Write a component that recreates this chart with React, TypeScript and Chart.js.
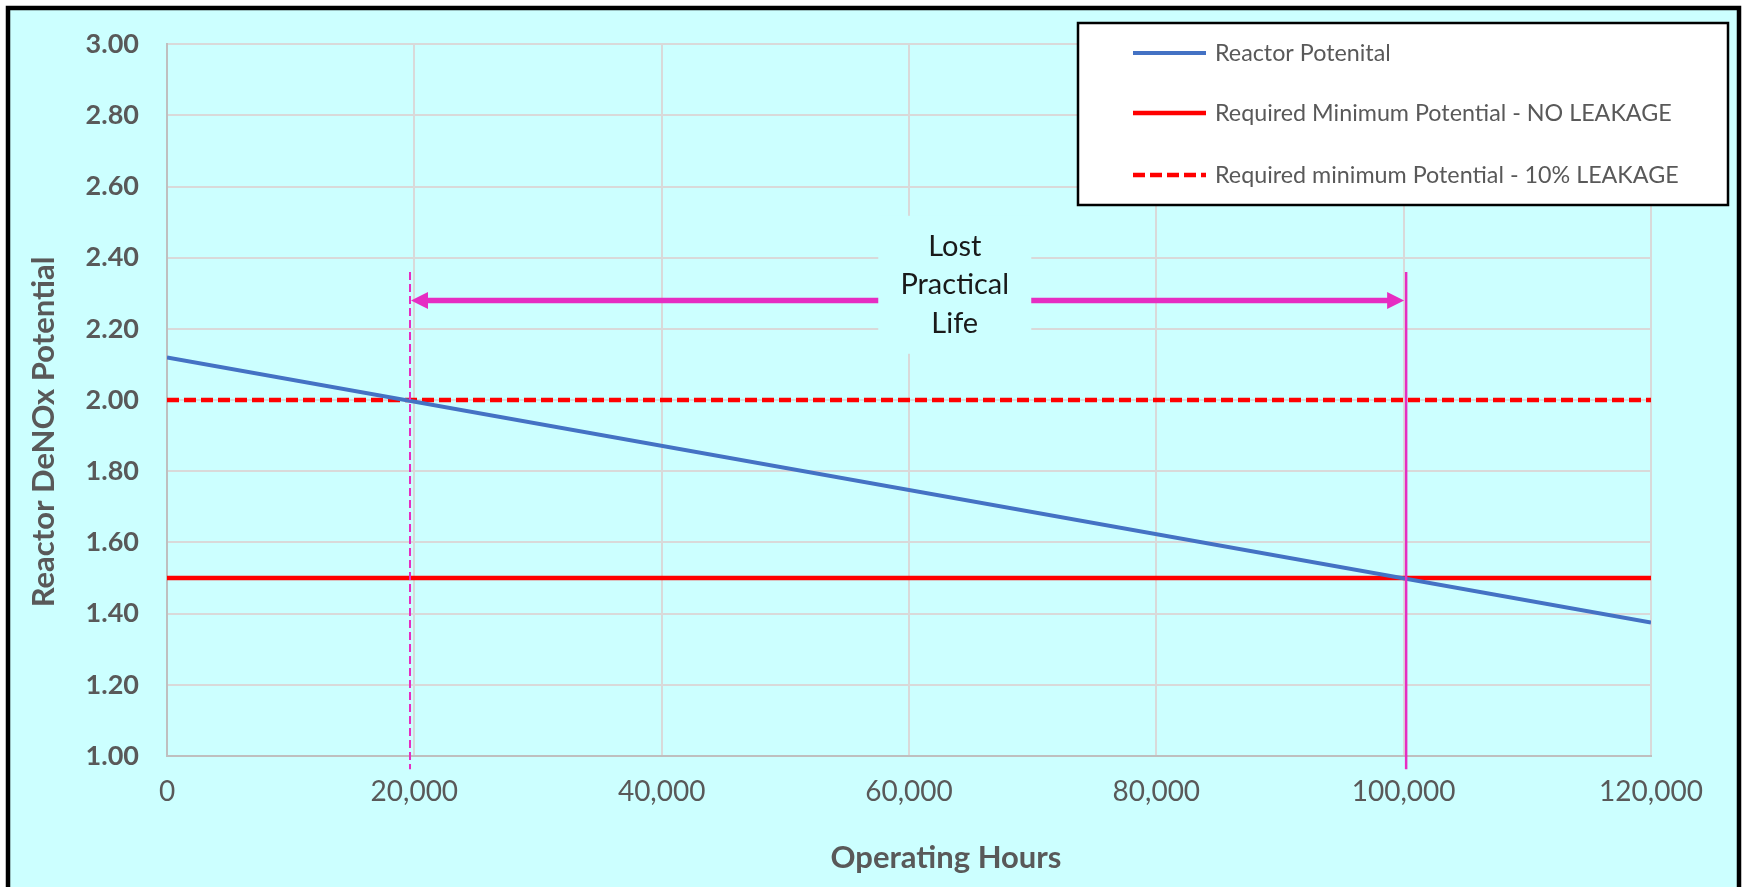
import React, { useEffect, useRef } from "react";
import { Chart, registerables } from "chart.js";

Chart.register(...registerables);

// ---- data ----
const HOURS = [0, 120000];
const REACTOR_POTENTIAL = [2.12, 1.375];
const MIN_NO_LEAKAGE = [1.5, 1.5];
const MIN_10_LEAKAGE = [2.0, 2.0];
const SERIES_LABELS = [
  "Reactor Potenital",
  "Required Minimum Potential - NO LEAKAGE",
  "Required minimum Potential - 10% LEAKAGE",
];
const X_TICKS = [0, 20000, 40000, 60000, 80000, 100000, 120000];
const Y_TICKS = [1.0, 1.2, 1.4, 1.6, 1.8, 2.0, 2.2, 2.4, 2.6, 2.8, 3.0];
const X_TITLE = "Operating Hours";
const Y_TITLE = "Reactor DeNOx Potential";

// annotation values (data units)
const LIFE_END_LEAKAGE = 19650;
const LIFE_END_NO_LEAKAGE = 100200;
const MARKER_TOP = 2.36;
const MARKER_BOTTOM = 0.963;
const ARROW_LEVEL = 2.28;
const NOTE_X = 63700;
const NOTE_Y = 2.324;
const NOTE_LINES = ["Lost", "Practical", "Life"];

const FONT = "Lato, 'Noto Sans', sans-serif";
const GREY = "#595959";
const MAGENTA = "#E62DC2";
const CYAN = "#CCFFFF";

const pts = (xs: number[], ys: number[]) => xs.map((x, i) => ({ x, y: ys[i] }));

const framePlugin = {
  id: "frame",
  beforeDraw(chart: any) {
    const { ctx, width, height } = chart;
    ctx.save();
    ctx.fillStyle = "#ffffff";
    ctx.fillRect(0, 0, width, height);
    ctx.fillStyle = CYAN;
    ctx.fillRect(6, 6, 1735, height + 20);
    ctx.strokeStyle = "#000000";
    ctx.lineWidth = 4.5;
    ctx.strokeRect(8, 8, 1731, height + 20);
    ctx.restore();
  },
};

const annotationPlugin = {
  id: "lostLife",
  afterDatasetsDraw(chart: any) {
    const { ctx } = chart;
    const xs = chart.scales.x;
    const ys = chart.scales.y;
    const xL = xs.getPixelForValue(LIFE_END_LEAKAGE);
    const xR = xs.getPixelForValue(LIFE_END_NO_LEAKAGE);
    const yTop = ys.getPixelForValue(MARKER_TOP);
    const yBot = ys.getPixelForValue(MARKER_BOTTOM);
    const yA = ys.getPixelForValue(ARROW_LEVEL);
    const nx = xs.getPixelForValue(NOTE_X);
    const ny = ys.getPixelForValue(NOTE_Y);
    ctx.save();
    // vertical markers
    ctx.strokeStyle = MAGENTA;
    ctx.lineWidth = 2;
    ctx.setLineDash([8, 4]);
    ctx.beginPath();
    ctx.moveTo(xL, yTop);
    ctx.lineTo(xL, yBot);
    ctx.stroke();
    ctx.setLineDash([]);
    ctx.lineWidth = 2.5;
    ctx.beginPath();
    ctx.moveTo(xR, yTop);
    ctx.lineTo(xR, yBot);
    ctx.stroke();
    // note box
    const bw = 153, bh = 138;
    ctx.fillStyle = CYAN;
    ctx.fillRect(nx - bw / 2, ny - bh / 2, bw, bh);
    // arrow shafts
    const head = 17, hh = 8.5;
    ctx.lineWidth = 5.5;
    ctx.beginPath();
    ctx.moveTo(xL + head - 1, yA);
    ctx.lineTo(nx - bw / 2, yA);
    ctx.moveTo(nx + bw / 2, yA);
    ctx.lineTo(xR - head + 1, yA);
    ctx.stroke();
    ctx.fillStyle = MAGENTA;
    ctx.beginPath();
    ctx.moveTo(xL + 1, yA);
    ctx.lineTo(xL + 1 + head, yA - hh);
    ctx.lineTo(xL + 1 + head, yA + hh);
    ctx.closePath();
    ctx.fill();
    ctx.beginPath();
    ctx.moveTo(xR - 2, yA);
    ctx.lineTo(xR - 2 - head, yA - hh);
    ctx.lineTo(xR - 2 - head, yA + hh);
    ctx.closePath();
    ctx.fill();
    // text
    ctx.fillStyle = "#1a1a1a";
    ctx.font = `29px ${FONT}`;
    ctx.textAlign = "center";
    ctx.textBaseline = "middle";
    NOTE_LINES.forEach((t, i) => {
      ctx.fillText(t, nx, ny + (i - 1) * 38.5);
    });
    ctx.restore();
  },
  afterDraw(chart: any) {
    const { ctx } = chart;
    ctx.save();
    // axis titles
    ctx.fillStyle = GREY;
    ctx.font = `bold 31px ${FONT}`;
    ctx.textAlign = "center";
    ctx.textBaseline = "middle";
    ctx.fillText(X_TITLE, 946, 858);
    ctx.translate(44, 432);
    ctx.rotate(-Math.PI / 2);
    ctx.fillText(Y_TITLE, 0, 0);
    ctx.restore();

    // legend
    ctx.save();
    ctx.fillStyle = "#ffffff";
    ctx.fillRect(1078, 23, 650, 182);
    ctx.strokeStyle = "#000000";
    ctx.lineWidth = 2.5;
    ctx.strokeRect(1078, 23, 650, 182);
    const rows = [53, 113, 175];
    chart.data.datasets.forEach((ds: any, i: number) => {
      const y = rows[i];
      ctx.strokeStyle = ds.borderColor;
      ctx.lineWidth = ds.borderWidth;
      ctx.setLineDash(ds.borderDash || []);
      ctx.beginPath();
      ctx.moveTo(1133, y);
      ctx.lineTo(1206, y);
      ctx.stroke();
      ctx.setLineDash([]);
      ctx.fillStyle = GREY;
      ctx.font = `23.3px ${FONT}`;
      ctx.textAlign = "left";
      ctx.textBaseline = "middle";
      ctx.fillText(ds.label, 1215, y);
    });
    ctx.restore();
  },
};

export default function App() {
  const ref = useRef<HTMLCanvasElement | null>(null);
  useEffect(() => {
    document.body.style.margin = "0";
    const canvas = ref.current;
    if (!canvas) return;
    const chart = new Chart(canvas, {
      type: "line",
      data: {
        datasets: [
          {
            label: SERIES_LABELS[0],
            data: pts(HOURS, REACTOR_POTENTIAL),
            borderColor: "#4472C4",
            borderWidth: 4,
            pointRadius: 0,
          },
          {
            label: SERIES_LABELS[1],
            data: pts(HOURS, MIN_NO_LEAKAGE),
            borderColor: "#FF0000",
            borderWidth: 4.5,
            pointRadius: 0,
          },
          {
            label: SERIES_LABELS[2],
            data: pts(HOURS, MIN_10_LEAKAGE),
            borderColor: "#FF0000",
            borderWidth: 4.5,
            borderDash: [12, 5],
            pointRadius: 0,
          },
        ],
      },
      options: {
        animation: false,
        responsive: false,
        devicePixelRatio: 1,
        layout: { padding: { left: 0, top: 40, right: 97, bottom: 0 } },
        plugins: {
          legend: { display: false },
          tooltip: { enabled: false },
          title: { display: false },
        },
        scales: {
          x: {
            type: "linear",
            min: 0,
            max: 120000,
            afterBuildTicks: (s: any) => {
              s.ticks = X_TICKS.map((v) => ({ value: v }));
            },
            afterFit: (s: any) => {
              s.height = 131;
            },
            grid: { color: "#D9D9D9", lineWidth: 2, drawTicks: false },
            border: { color: "#BFBFBF", width: 2 },
            ticks: {
              padding: 19,
              color: GREY,
              font: { family: FONT, size: 28 },
              maxRotation: 0,
              autoSkip: false,
              callback: (v: any) => Number(v).toLocaleString("en-US"),
            },
          },
          y: {
            type: "linear",
            min: 1,
            max: 3,
            afterBuildTicks: (s: any) => {
              s.ticks = Y_TICKS.map((v) => ({ value: v }));
            },
            afterFit: (s: any) => {
              s.width = 167;
            },
            grid: { color: "#D9D9D9", lineWidth: 2, drawTicks: false },
            border: { color: "#BFBFBF", width: 2 },
            ticks: {
              padding: 28,
              color: GREY,
              font: { family: FONT, size: 27, weight: "bold" },
              autoSkip: false,
              callback: (v: any) => Number(v).toFixed(2),
            },
          },
        },
      },
      plugins: [framePlugin, annotationPlugin],
    });
    return () => chart.destroy();
  }, []);
  return (
    <div style={{ width: 1748, height: 887 }}>
      <canvas ref={ref} width={1748} height={887} style={{ display: "block" }} />
    </div>
  );
}
